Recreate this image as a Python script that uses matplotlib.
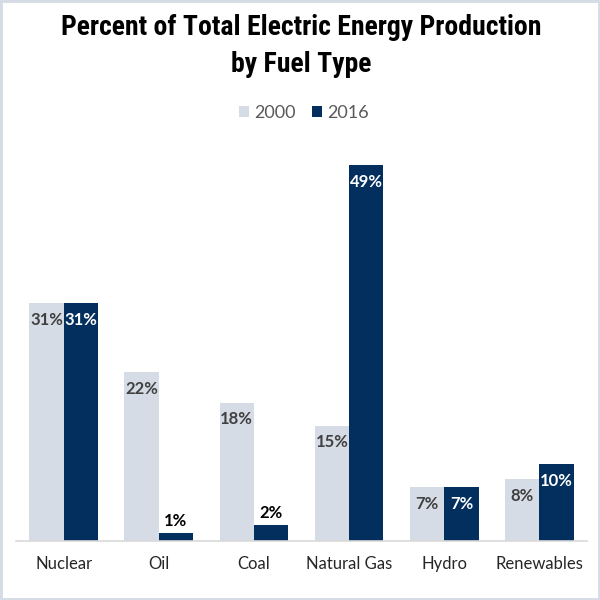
import matplotlib
matplotlib.use("Agg")
import matplotlib.pyplot as plt
from matplotlib.patches import Rectangle, Patch
from matplotlib import font_manager
from matplotlib.font_manager import FontProperties
import numpy as np

categories = ["Nuclear", "Oil", "Coal", "Natural Gas", "Hydro", "Renewables"]
years = ["2000", "2016"]
values_2000 = [31, 22, 18, 15, 7, 8]
values_2016 = [31, 1, 2, 49, 7, 10]

light = "#d6dce5"
dark = "#022f5d"
body_font = "Lato"


def find_title_font():
    ents = font_manager.fontManager.ttflist
    def is_bold(e):
        w = e.weight
        if isinstance(w, str):
            return "bold" in w.lower()
        return w >= 600
    def narrow(e):
        s = (e.name + " " + e.fname).lower()
        st = str(e.stretch).lower()
        return ("narrow" in s or "condensed" in s or "condensed" in st) and "semi" not in s and "extra" not in s
    prefs = ["liberation sans narrow", "arial narrow", "roboto condensed", "open sans condensed",
             "dejavu sans condensed", "dejavu sans"]
    cands = [e for e in ents if narrow(e) and is_bold(e)
             and "italic" not in e.fname.lower() and "oblique" not in e.fname.lower()]
    for p in prefs:
        for e in cands:
            key = (e.name + " " + e.fname.replace("-", " ")).lower()
            if p in key or p.replace(" ", "") in e.fname.lower().replace("-", "").replace("_", ""):
                return FontProperties(fname=e.fname), True
    if cands:
        return FontProperties(fname=cands[0].fname), True
    return FontProperties(family="Roboto", weight="bold"), False


title_fp, is_narrow = find_title_font()
title_fp.set_size(20 if is_narrow else 17)

fig = plt.figure(figsize=(6, 6), dpi=100)
fig.patch.set_facecolor("white")
fig.patches.append(Rectangle((0, 0), 1, 1, transform=fig.transFigure, fill=False,
                             edgecolor=light, linewidth=3.5, zorder=10))

ax = fig.add_axes([16/600, 1 - 540.7/600, (587 - 16)/600, (540.7 - 157.2)/600])
x = np.arange(len(categories))
w = 0.36
b1 = ax.bar(x - w/2, values_2000, w, color=light, label=years[0])
b2 = ax.bar(x + w/2, values_2016, w, color=dark, label=years[1])

ax.set_xlim(-0.5, len(categories) - 0.5)
ax.set_ylim(0, 50)
for s in ["top", "right", "left"]:
    ax.spines[s].set_visible(False)
ax.spines["bottom"].set_color("#d9d9d9")
ax.spines["bottom"].set_linewidth(1.2)
ax.set_yticks([])
ax.set_xticks(x)
ax.set_xticklabels(categories, fontfamily=body_font, fontsize=12, color="#262626")
ax.tick_params(axis="x", length=0, pad=11)


def label(bars, vals, inside_color):
    for r, v in zip(bars, vals):
        cx = r.get_x() + r.get_width()/2
        if v >= 5:
            ax.annotate(f"{v}%", (cx, v), xytext=(0, -12), textcoords="offset points",
                        ha="center", va="center", fontsize=12, fontweight="bold",
                        fontfamily=body_font, color=inside_color)
        else:
            ax.annotate(f"{v}%", (cx, v), xytext=(0, 9), textcoords="offset points",
                        ha="center", va="center", fontsize=12, fontweight="bold",
                        fontfamily=body_font, color="#000000")


label(b1, values_2000, "#404040")
label(b2, values_2016, "white")

fig.text(301/600, 1 - 46/600, "Percent of Total Electric Energy Production\nby Fuel Type",
         ha="center", va="center", fontproperties=title_fp,
         color="black", linespacing=1.45)

handles = [Patch(facecolor=light, label=years[0]), Patch(facecolor=dark, label=years[1])]
fig.legend(handles=handles, loc="center", bbox_to_anchor=(304/600, 1 - 113/600), ncol=2,
           frameon=False, prop={"family": body_font, "size": 13},
           handlelength=0.55, handleheight=0.55, handletextpad=0.32, columnspacing=0.87,
           labelcolor="#595959")

fig.savefig("out.png", dpi=100)
